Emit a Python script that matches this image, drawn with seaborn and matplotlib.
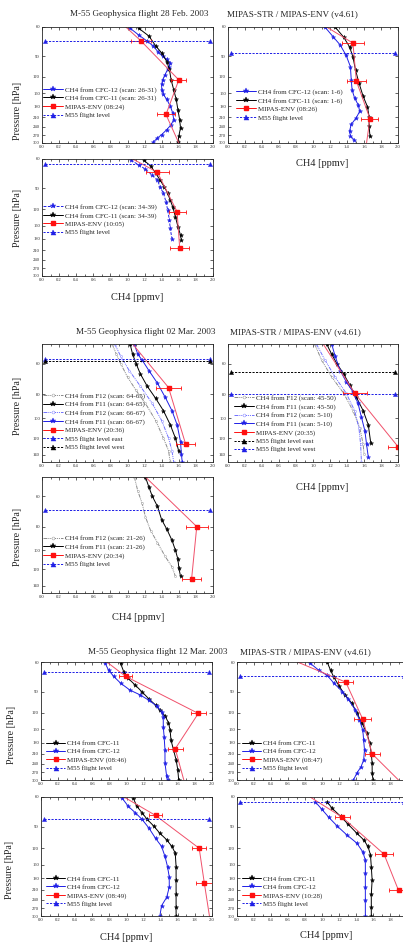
import matplotlib
matplotlib.use('Agg')
import matplotlib.pyplot as plt
from matplotlib.lines import Line2D
from matplotlib.ticker import FixedLocator, FixedFormatter, NullLocator, MultipleLocator
import seaborn as sns

sns.set_theme(style='ticks')
plt.rcParams['font.family'] = ['Liberation Serif', 'DejaVu Serif']

W, H = 403, 942

# ---------------- 28 Feb 2003 ----------------
g1a_c12_x = [1.03, 1.13, 1.23, 1.30, 1.36, 1.41, 1.46, 1.50, 1.49, 1.47, 1.44, 1.41, 1.40, 1.40, 1.42, 1.46, 1.50, 1.53, 1.54, 1.51, 1.46, 1.40, 1.35, 1.30]
g1a_c12_p = [61, 67, 73, 78, 85, 90, 94, 99, 104, 108, 116, 125, 133, 143, 153, 164, 180, 198, 217, 233, 249, 267, 280, 297]
g1a_c11_x = [1.13, 1.25, 1.33, 1.40, 1.46, 1.49, 1.51, 1.54, 1.57, 1.59, 1.61, 1.62, 1.60, 1.59]
g1a_c11_p = [61, 68, 78, 86, 97, 108, 125, 143, 164, 190, 217, 243, 273, 297]
g1a_env_x = [1.16, 1.60, 1.45]
g1a_env_p = [73, 125, 202]
g1a_env_err = [0.12, 0.09, 0.10]
g1a_envl_x = [0.98, 1.16, 1.60, 1.45, 1.60]
g1a_envl_p = [60, 73, 125, 202, 300]
g1a_flight = 73

g1b_c12_x = [1.14, 1.24, 1.32, 1.39, 1.44, 1.45, 1.46, 1.49, 1.53, 1.55, 1.51, 1.45, 1.43, 1.44, 1.48]
g1b_c12_p = [60, 69, 77, 89, 104, 125, 144, 161, 176, 193, 211, 232, 254, 272, 286]
g1b_c11_x = [1.26, 1.36, 1.43, 1.47, 1.50, 1.54, 1.59, 1.64, 1.66, 1.66, 1.67]
g1b_c11_p = [60, 69, 79, 91, 109, 130, 157, 181, 208, 238, 272]
g1b_env_x = [1.47, 1.51, 1.67]
g1b_env_p = [75, 127, 214]
g1b_env_err = [0.13, 0.11, 0.10]
g1b_envl_x = [1.16, 1.47, 1.51, 1.67, 1.63]
g1b_envl_p = [60, 75, 127, 214, 300]
g1b_flight = 86

g1c_c12_x = [1.04, 1.13, 1.21, 1.29, 1.35, 1.38, 1.42, 1.45, 1.47, 1.49, 1.50, 1.52]
g1c_c12_p = [61, 65, 69, 75, 80, 88, 96, 108, 121, 139, 156, 180]
g1c_c11_x = [1.19, 1.27, 1.33, 1.38, 1.43, 1.47, 1.50, 1.53, 1.56, 1.59, 1.62, 1.63]
g1c_c11_p = [61, 66, 73, 80, 88, 96, 106, 116, 133, 152, 171, 183]
g1c_env_x = [1.35, 1.58, 1.61]
g1c_env_p = [72, 124, 203]
g1c_env_err = [0.13, 0.10, 0.11]
g1c_envl_x = [1.06, 1.35, 1.58, 1.61]
g1c_envl_p = [60, 72, 124, 203]
g1c_flight = 64

# ---------------- 02 Mar 2003 ----------------
g2a_f12a_x = [0.82, 0.87, 0.92, 1.00, 1.10, 1.21, 1.33, 1.42, 1.48, 1.50]
g2a_f12a_p = [50, 55, 60, 68, 77, 87, 102, 120, 135, 150]
g2a_f11a_x = [1.03, 1.06, 1.10, 1.15, 1.23, 1.33, 1.42, 1.50, 1.56, 1.60]
g2a_f11a_p = [50, 55, 60, 66, 74, 83, 93, 106, 120, 136]
g2a_f12b_x = [0.85, 0.92, 1.02, 1.15, 1.29, 1.40, 1.48, 1.52, 1.54]
g2a_f12b_p = [50, 56, 64, 74, 87, 102, 120, 135, 150]
g2a_f11b_x = [1.08, 1.12, 1.17, 1.25, 1.35, 1.44, 1.52, 1.58, 1.62, 1.63, 1.64]
g2a_f11b_p = [50, 55, 58, 64, 72, 82, 93, 106, 124, 139, 150]
g2a_env_x = [1.48, 1.68]
g2a_env_p = [75, 127]
g2a_env_err = [0.15, 0.11]
g2a_envl_x = [1.06, 1.48, 1.68]
g2a_envl_p = [50, 75, 127]
g2a_flight_east = 57.5
g2a_flight_west = 58.7

g2b_f12a_x = [1.02, 1.10, 1.22, 1.36, 1.47, 1.55, 1.59, 1.60]
g2b_f12a_p = [50, 58, 68, 79, 93, 109, 127, 139]
g2b_f11a_x = [1.16, 1.22, 1.28, 1.36, 1.43, 1.51, 1.59, 1.65, 1.68]
g2b_f11a_p = [50, 55, 60, 66, 73, 82, 93, 106, 126]
g2b_f12b_x = [1.04, 1.14, 1.26, 1.39, 1.49, 1.54, 1.56, 1.57]
g2b_f12b_p = [50, 58, 68, 79, 93, 109, 127, 150]
g2b_f11b_x = [1.22, 1.26, 1.32, 1.39, 1.47, 1.53, 1.57, 1.61, 1.63, 1.65]
g2b_f11b_p = [50, 56, 64, 71, 78, 87, 99, 112, 127, 143]
g2b_env_x = [1.49, 2.00]
g2b_env_p = [79, 130]
g2b_env_err = [0.14, 0.12]
g2b_envl_x = [1.12, 1.49, 2.00]
g2b_envl_p = [50, 79, 130]
g2b_flight_east = 65
g2b_flight_west = 80

g2c_f12_x = [1.08, 1.12, 1.17, 1.21, 1.27, 1.35, 1.44, 1.52, 1.56]
g2c_f12_p = [50, 57, 64, 73, 83, 93, 106, 117, 128]
g2c_f11_x = [1.21, 1.25, 1.29, 1.35, 1.40, 1.46, 1.52, 1.56, 1.59, 1.60, 1.62]
g2c_f11_p = [50, 55, 60, 66, 75, 82, 91, 100, 109, 118, 128]
g2c_env_x = [1.81, 1.75]
g2c_env_p = [80, 131]
g2c_env_err = [0.13, 0.11]
g2c_envl_x = [1.21, 1.81, 1.75]
g2c_envl_p = [50, 80, 131]
g2c_flight = 68.6

# ---------------- 12 Mar 2003 ----------------
g3a_c11_x = [0.93, 0.97, 1.02, 1.10, 1.18, 1.26, 1.34, 1.39, 1.45, 1.49, 1.51, 1.52, 1.55, 1.58, 1.60, 1.61]
g3a_c11_p = [61, 69, 75, 82, 90, 99, 108, 116, 125, 137, 152, 174, 199, 228, 261, 300]
g3a_c12_x = [0.75, 0.79, 0.85, 0.93, 1.04, 1.16, 1.26, 1.36, 1.41, 1.43, 1.43, 1.44, 1.45, 1.45, 1.47, 1.48]
g3a_c12_p = [61, 67, 73, 80, 88, 94, 101, 110, 118, 127, 145, 166, 199, 238, 286, 300]
g3a_env_x = [0.99, 1.84, 1.57]
g3a_env_p = [73, 121, 196]
g3a_env_err = [0.08, 0.09, 0.09]
g3a_envl_x = [0.77, 0.99, 1.84, 1.57, 1.67]
g3a_envl_p = [60, 73, 121, 196, 300]
g3a_flight = 68.7

g3b_c11_x = [1.06, 1.10, 1.14, 1.20, 1.27, 1.35, 1.41, 1.47, 1.53, 1.56, 1.58, 1.59, 1.59, 1.60]
g3b_c11_p = [60, 67, 74, 83, 94, 105, 120, 138, 159, 181, 209, 239, 274, 300]
g3b_c12_x = [0.86, 0.96, 1.06, 1.14, 1.24, 1.31, 1.39, 1.44, 1.48, 1.49, 1.50, 1.49, 1.46, 1.41, 1.37]
g3b_c12_p = [61, 67, 72, 80, 90, 100, 115, 132, 152, 174, 199, 228, 250, 273, 300]
g3b_env_x = [1.28, 1.48, 1.59]
g3b_env_p = [79, 131, 210]
g3b_env_err = [0.09, 0.10, 0.09]
g3b_envl_x = [0.71, 1.28, 1.48, 1.59, 1.90]
g3b_envl_p = [60, 79, 131, 210, 300]
g3b_flight = 72.4

g3c_c11_x = [1.08, 1.12, 1.18, 1.24, 1.32, 1.39, 1.47, 1.53, 1.57, 1.58, 1.58, 1.58, 1.58, 1.58]
g3c_c11_p = [61, 68, 74, 81, 89, 98, 107, 117, 128, 154, 185, 222, 265, 300]
g3c_c12_x = [0.95, 1.02, 1.10, 1.18, 1.26, 1.34, 1.41, 1.45, 1.48, 1.50, 1.50, 1.47, 1.41, 1.39]
g3c_c12_p = [61, 68, 74, 81, 91, 105, 117, 134, 154, 177, 203, 233, 261, 300]
g3c_env_x = [1.34, 1.85, 1.91]
g3c_env_p = [77, 120, 192]
g3c_env_err = [0.08, 0.08, 0.10]
g3c_envl_x = [0.97, 1.34, 1.85, 1.91, 1.97]
g3c_envl_p = [60, 77, 120, 192, 300]
g3c_flight = 80.6

g3d_c11_x = [1.06, 1.12, 1.22, 1.31, 1.41, 1.49, 1.54, 1.57, 1.58, 1.59, 1.58, 1.58, 1.58]
g3d_c11_p = [64, 70, 78, 87, 98, 107, 117, 131, 154, 185, 222, 265, 300]
g3d_c12_x = [0.92, 1.00, 1.08, 1.18, 1.29, 1.41, 1.48, 1.51, 1.51, 1.51, 1.51, 1.51]
g3d_c12_p = [64, 71, 79, 89, 100, 112, 126, 141, 168, 203, 242, 300]
g3d_env_x = [1.24, 1.73, 1.90]
g3d_env_p = [79, 130, 212]
g3d_env_err = [0.09, 0.11, 0.11]
g3d_envl_x = [0.86, 1.24, 1.73, 1.90]
g3d_envl_p = [60, 79, 130, 212]
g3d_flight = 64.2

ticks_long = [60, 90, 120, 150, 180, 210, 240, 270, 300]
ticks_short = [60, 80, 100, 120, 140]

BLUE = '#1f1fe6'
RED = '#ff1010'
PINK = '#f0506a'
DASH = (0, (2.2, 1.4))
DDOT = (0, (4, 1, 1, 1, 1, 1))

STY = {
    'c12': dict(color=BLUE, ls='-', marker='*', ms=3.2, mfc=BLUE),
    'c12d': dict(color=BLUE, ls=(0, (3, 1.5)), marker='*', ms=3.2, mfc=BLUE),
    'c11': dict(color='black', ls='-', marker='*', ms=3.2, mfc='black'),
    'f11b': dict(color=BLUE, ls='-', marker='*', ms=3.2, mfc=BLUE),
    'f12g': dict(color='#8a8a8a', ls=DDOT, marker='o', ms=1.5, mfc='white'),
    'f12b': dict(color='#7070ff', ls=DDOT, marker='o', ms=1.5, mfc='white'),
    'flb': dict(color=BLUE, ls=DASH, marker='^', ms=3, mfc=BLUE),
    'flk': dict(color='black', ls=DASH, marker='^', ms=3, mfc='black'),
}

fig = plt.figure(figsize=(W / 100, H / 100), dpi=100)


def pbox(x0, y0, x1, y1):
    return [x0 / W, 1 - y1 / H, (x1 - x0) / W, (y1 - y0) / H]


def draw(ax, x, p, key):
    s = STY[key]
    sns.lineplot(x=x, y=p, ax=ax, sort=False, estimator=None, color=s['color'],
                 linestyle=s['ls'], linewidth=0.7, marker=s['marker'], markersize=s['ms'],
                 markerfacecolor=s['mfc'], markeredgecolor=s['color'], markeredgewidth=0.3,
                 legend=False)


def handle(key):
    s = STY[key]
    return Line2D([], [], color=s['color'], ls=s['ls'], lw=0.7, marker=s['marker'],
                  ms=s['ms'] + 0.6, mfc=s['mfc'], mec=s['color'], mew=0.3)


def panel(box, ylim, yticks, curves, envl, env, flights, labels, anchor, last_label=True):
    ax = fig.add_axes(pbox(*box))
    for x, p, key in curves:
        draw(ax, x, p, key)
    sns.lineplot(x=envl[0], y=envl[1], ax=ax, sort=False, estimator=None,
                 color=PINK, linewidth=0.7, legend=False)
    ax.errorbar(env[0], env[1], xerr=env[2], fmt='s', color=RED, ms=2.6,
                elinewidth=0.6, capsize=1.3, capthick=0.6)
    for p, key in flights:
        draw(ax, [0.04, 1.97], [p, p], key)
    ax.set_yscale('log')
    ax.set_ylim(ylim)
    ax.set_xlim(0, 2.0)
    ax.yaxis.set_major_locator(FixedLocator(yticks))
    ax.yaxis.set_major_formatter(FixedFormatter([str(t) for t in yticks]))
    ax.yaxis.set_minor_locator(NullLocator())
    ax.xaxis.set_major_locator(MultipleLocator(0.2))
    ax.xaxis.set_minor_locator(MultipleLocator(0.1))
    if last_label:
        ax.xaxis.set_major_formatter(plt.FuncFormatter(lambda v, _: f'{v:.1f}'))
    else:
        ax.xaxis.set_major_formatter(plt.FuncFormatter(lambda v, _: f'{v:.1f}' if v < 1.95 else ''))
    ax.tick_params(which='both', direction='in', top=True, right=True, width=0.5,
                   labelsize=3.3, pad=1.5)
    ax.tick_params(which='major', length=2.5)
    ax.tick_params(which='minor', length=1.4)
    for sp in ax.spines.values():
        sp.set_linewidth(0.6)
    ax.set_xlabel('')
    ax.set_ylabel('')
    keys = [c[2] for c in curves]
    hs = [handle(k) for k in keys]
    hs.append(Line2D([], [], color=RED, lw=0.7, marker='s', ms=3.2))
    hs += [handle(k) for _, k in flights]
    ax.legend(hs, labels, loc='upper left', bbox_to_anchor=anchor, frameon=False,
              fontsize=5, handlelength=2.8, handletextpad=0.3, labelspacing=0.35,
              borderaxespad=0, borderpad=0.2)
    return ax


def ftext(x, y, s, size, **kw):
    fig.text(x / W, 1 - y / H, s, fontsize=size, va='center', **kw)


# group 1
panel((42, 27, 213, 143), (300, 60), ticks_long,
      [(g1a_c12_x, g1a_c12_p, 'c12'), (g1a_c11_x, g1a_c11_p, 'c11')],
      (g1a_envl_x, g1a_envl_p), (g1a_env_x, g1a_env_p, g1a_env_err),
      [(g1a_flight, 'flb')],
      ['CH4 from CFC-12 (scan: 26-31)', 'CH4 from CFC-11 (scan: 26-31)',
       'MIPAS-ENV (08:24)', 'M55 flight level'], (0.0, 0.50))
panel((228, 27, 398, 143), (300, 60), ticks_long,
      [(g1b_c12_x, g1b_c12_p, 'c12'), (g1b_c11_x, g1b_c11_p, 'c11')],
      (g1b_envl_x, g1b_envl_p), (g1b_env_x, g1b_env_p, g1b_env_err),
      [(g1b_flight, 'flb')],
      ['CH4 from CFC-12 (scan: 1-6)', 'CH4 from CFC-11 (scan: 1-6)',
       'MIPAS-ENV (08:26)', 'M55 flight level'], (0.04, 0.48))
panel((42, 159, 213, 276), (300, 60), ticks_long,
      [(g1c_c12_x, g1c_c12_p, 'c12d'), (g1c_c11_x, g1c_c11_p, 'c11')],
      (g1c_envl_x, g1c_envl_p), (g1c_env_x, g1c_env_p, g1c_env_err),
      [(g1c_flight, 'flb')],
      ['CH4 from CFC-12 (scan: 34-39)', 'CH4 from CFC-11 (scan: 34-39)',
       'MIPAS-ENV (10:05)', 'M55 flight level'], (0.0, 0.63))

# group 2
panel((42, 344, 213, 462), (150, 50), ticks_short,
      [(g2a_f12a_x, g2a_f12a_p, 'f12g'), (g2a_f11a_x, g2a_f11a_p, 'c11'),
       (g2a_f12b_x, g2a_f12b_p, 'f12b'), (g2a_f11b_x, g2a_f11b_p, 'f11b')],
      (g2a_envl_x, g2a_envl_p), (g2a_env_x, g2a_env_p, g2a_env_err),
      [(g2a_flight_east, 'flb'), (g2a_flight_west, 'flk')],
      ['CH4 from F12 (scan: 64-65)', 'CH4 from F11 (scan: 64-65)',
       'CH4 from F12 (scan: 66-67)', 'CH4 from F11 (scan: 66-67)',
       'MIPAS-ENV (20:36)', 'M55 flight level east', 'M55 flight level west'], (0.0, 0.60))
panel((228, 344, 398, 462), (150, 50), ticks_short,
      [(g2b_f12a_x, g2b_f12a_p, 'f12g'), (g2b_f11a_x, g2b_f11a_p, 'c11'),
       (g2b_f12b_x, g2b_f12b_p, 'f12b'), (g2b_f11b_x, g2b_f11b_p, 'f11b')],
      (g2b_envl_x, g2b_envl_p), (g2b_env_x, g2b_env_p, g2b_env_err),
      [(g2b_flight_east, 'flk'), (g2b_flight_west, 'flb')],
      ['CH4 from F12 (scan: 45-50)', 'CH4 from F11 (scan: 45-50)',
       'CH4 from F12 (scan: 5-10)', 'CH4 from F11 (scan: 5-10)',
       'MIPAS-ENV (20:35)', 'M55 flight level east', 'M55 flight level west'], (0.03, 0.58))
panel((42, 477, 213, 593), (150, 50), ticks_short,
      [(g2c_f12_x, g2c_f12_p, 'f12g'), (g2c_f11_x, g2c_f11_p, 'c11')],
      (g2c_envl_x, g2c_envl_p), (g2c_env_x, g2c_env_p, g2c_env_err),
      [(g2c_flight, 'flb')],
      ['CH4 from F12 (scan: 21-26)', 'CH4 from F11 (scan: 21-26)',
       'MIPAS-ENV (20:34)', 'M55 flight level'], (0.0, 0.51))

# group 3
lab3 = ['CH4 from CFC-11', 'CH4 from CFC-12']
panel((41, 662, 212, 780), (300, 60), ticks_long,
      [(g3a_c11_x, g3a_c11_p, 'c11'), (g3a_c12_x, g3a_c12_p, 'c12')],
      (g3a_envl_x, g3a_envl_p), (g3a_env_x, g3a_env_p, g3a_env_err),
      [(g3a_flight, 'flb')], lab3 + ['MIPAS-ENV (08:46)', 'M55 flight level'], (0.02, 0.35))
panel((237, 662, 407, 780), (300, 60), ticks_long,
      [(g3b_c11_x, g3b_c11_p, 'c11'), (g3b_c12_x, g3b_c12_p, 'c12')],
      (g3b_envl_x, g3b_envl_p), (g3b_env_x, g3b_env_p, g3b_env_err),
      [(g3b_flight, 'flb')], lab3 + ['MIPAS-ENV (08:47)', 'M55 flight level'], (0.02, 0.35),
      last_label=False)
panel((41, 797, 212, 916), (300, 60), ticks_long,
      [(g3c_c11_x, g3c_c11_p, 'c11'), (g3c_c12_x, g3c_c12_p, 'c12')],
      (g3c_envl_x, g3c_envl_p), (g3c_env_x, g3c_env_p, g3c_env_err),
      [(g3c_flight, 'flb')], lab3 + ['MIPAS-ENV (08:49)', 'M55 flight level'], (0.02, 0.35))
panel((237, 797, 407, 916), (300, 60), ticks_long,
      [(g3d_c11_x, g3d_c11_p, 'c11'), (g3d_c12_x, g3d_c12_p, 'c12')],
      (g3d_envl_x, g3d_envl_p), (g3d_env_x, g3d_env_p, g3d_env_err),
      [(g3d_flight, 'flb')], lab3 + ['MIPAS-ENV (10:28)', 'M55 flight level'], (0.02, 0.35),
      last_label=False)

# titles
ftext(208, 14, 'M-55 Geophysica flight 28 Feb. 2003', 6.6, ha='right')
ftext(227, 14, 'MIPAS-STR / MIPAS-ENV (v4.61)', 6.6, ha='left')
ftext(215, 332, 'M-55 Geophysica flight 02 Mar. 2003', 6.6, ha='right')
ftext(230, 332, 'MIPAS-STR / MIPAS-ENV (v4.61)', 6.6, ha='left')
ftext(228, 652, 'M-55 Geophysica flight 12 Mar. 2003', 6.6, ha='right')
ftext(240, 652, 'MIPAS-STR / MIPAS-ENV (v4.61)', 6.6, ha='left')

# axis labels
for x, y in [(18, 111), (18, 218), (18, 406), (18, 537), (12, 735), (10, 870)]:
    ftext(x, y, 'Pressure [hPa]', 7.2, ha='center', rotation=90)
for x, y in [(322, 163), (137, 297), (322, 488), (138, 617), (126, 937), (326, 936)]:
    ftext(x, y, 'CH4 [ppmv]', 7.5, ha='center')

fig.savefig('out.png', dpi=100)
